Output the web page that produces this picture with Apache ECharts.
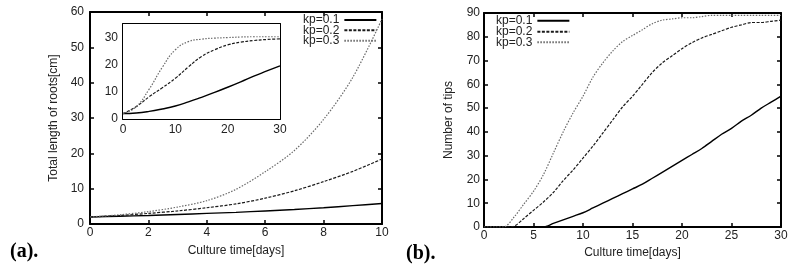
<!DOCTYPE html>
<html>
<head>
<meta charset="utf-8">
<script src="https://cdn.jsdelivr.net/npm/echarts@6/dist/echarts.min.js"></script>
<style>
html,body{margin:0;padding:0;background:#fff;}
#chart{width:797px;height:274px;}
</style>
</head>
<body>
<div id="chart"></div>
<script>
// ---- Data ----
const seriesNames = ['kp=0.1', 'kp=0.2', 'kp=0.3'];

// Panel (a) main: total length of roots [cm] vs culture time [days]
const daysA = [0, 1, 2, 3, 4, 5, 6, 7, 8, 9, 10];
const lenA_kp01 = [2, 2.2, 2.4, 2.7, 3.0, 3.3, 3.7, 4.1, 4.6, 5.2, 5.8];
const lenA_kp02 = [2, 2.4, 3.0, 3.7, 4.6, 5.7, 7.3, 9.4, 12.0, 14.9, 18.4];
const lenA_kp03 = [2, 2.6, 3.5, 4.8, 6.6, 9.8, 14.8, 20.8, 29.6, 41.5, 58];

// Panel (a) inset: 0..30 days
const daysI = [0, 2.5, 5, 7.5, 10, 12.5, 15, 17.5, 20, 22.5, 25, 27.5, 30];
const lenI_kp01 = [2, 2.2, 2.8, 3.7, 4.8, 6.3, 8.0, 9.8, 11.7, 13.7, 15.8, 17.7, 19.6];
const lenI_kp02 = [2, 4.5, 8.2, 11.5, 15, 19.2, 23, 25.5, 27.3, 28.3, 28.9, 29.3, 29.5];
const lenI_kp03 = [2, 4.5, 11, 19, 25.5, 28.5, 29.4, 29.8, 30.0, 30.2, 30.3, 30.3, 30.3];

// Panel (b): number of tips vs culture time [days]
const daysB = [0,1,2,3,4,5,6,7,8,9,10,11,12,13,14,15,16,17,18,19,20,21,22,23,24,25,26,27,28,29,30];
const tipsB_kp01 = [0,0,0,0,0,0,0,1.5,3,4.5,6,8,10,12,14,16,18,20.5,23,25.5,28,30.5,33,36,39,41.5,44.5,47,50,52.5,55];
const tipsB_kp02 = [0,0,0,0.3,3.5,7,10.5,14.5,19.5,24,29,34,39.5,45,50.5,55,60,65,69,72,75,77.5,79.5,81,82.5,84,85,86,86,86.5,87];
const tipsB_kp03 = [0,0,0,4,9.5,15,22,31,40,48,55,63,69,74,78,80.5,83,85.5,87,87.5,88,88,88.5,89,89,89,89,89,89,89,89];

// ---- Styles ----
const FONT = "'Liberation Sans', Arial, sans-serif";
const TXT = '#222';
const lineStyles = [
  { color: '#000', width: 1.4, type: 'solid' },
  { color: '#1a1a1a', width: 1.2, type: [3, 1.5] },
  { color: '#6a6a6a', width: 1.2, type: [1.5, 1.5] }
];

function pairs(xs, ys) { return xs.map((x, i) => [x, ys[i]]); }

function xAx(grid, min, max, interval, pos, showLabel, margin) {
  return {
    type: 'value', gridIndex: grid, min: min, max: max, interval: interval, position: pos,
    axisLine: { show: true, onZero: false, lineStyle: { color: '#000', width: 2 } },
    axisTick: { show: true, inside: true, length: 4, lineStyle: { color: '#000', width: 1.5 } },
    axisLabel: { show: showLabel, color: TXT, fontSize: 12, fontFamily: FONT, margin: margin || 3 },
    splitLine: { show: false }
  };
}
function yAx(grid, min, max, interval, pos, showLabel, margin, hideMax) {
  return {
    type: 'value', gridIndex: grid, min: min, max: max, interval: interval, position: pos,
    axisLine: { show: true, onZero: false, lineStyle: { color: '#000', width: 2 } },
    axisTick: { show: true, inside: true, length: 4, lineStyle: { color: '#000', width: 1.5 } },
    axisLabel: { show: showLabel, color: TXT, fontSize: 12, fontFamily: FONT, margin: margin || 5,
                 showMaxLabel: !hideMax },
    splitLine: { show: false }
  };
}

const xAxes = [
  Object.assign(xAx(0, 0, 10, 2, 'bottom', true, 3), {
    name: 'Culture time[days]', nameLocation: 'middle', nameGap: 21,
    nameTextStyle: { color: TXT, fontSize: 12, fontFamily: FONT, verticalAlign: 'top' }
  }),
  xAx(0, 0, 10, 2, 'top', false),
  xAx(1, 0, 30, 10, 'bottom', true, 5),
  xAx(1, 0, 30, 10, 'top', false),
  Object.assign(xAx(2, 0, 30, 5, 'bottom', true, 3), {
    name: 'Culture time[days]', nameLocation: 'middle', nameGap: 20,
    nameTextStyle: { color: TXT, fontSize: 12, fontFamily: FONT, verticalAlign: 'top' }
  }),
  xAx(2, 0, 30, 5, 'top', false)
];
const yAxes = [
  Object.assign(yAx(0, 0, 60, 10, 'left', true, 6), {
    name: 'Total length of roots[cm]', nameLocation: 'middle', nameGap: 30,
    nameTextStyle: { color: TXT, fontSize: 12, fontFamily: FONT }
  }),
  yAx(0, 0, 60, 10, 'right', false),
  yAx(1, 0, 35, 10, 'left', true, 5, true),
  yAx(1, 0, 35, 10, 'right', false),
  Object.assign(yAx(2, 0, 90, 10, 'left', true, 4), {
    name: 'Number of tips', nameLocation: 'middle', nameGap: 29,
    nameTextStyle: { color: TXT, fontSize: 12, fontFamily: FONT }
  }),
  yAx(2, 0, 90, 10, 'right', false)
];

function mk(name, idx, xi, yi, data, z, sm) {
  return {
    type: 'line', name: name, xAxisIndex: xi, yAxisIndex: yi, data: data,
    showSymbol: false, symbol: 'none', smooth: sm || 0.3, z: z || 2,
    lineStyle: lineStyles[idx], itemStyle: { color: lineStyles[idx].color },
    emphasis: { disabled: true }, animation: false
  };
}

const series = [
  mk(seriesNames[0], 0, 0, 0, pairs(daysA, lenA_kp01)),
  mk(seriesNames[1], 1, 0, 0, pairs(daysA, lenA_kp02)),
  mk(seriesNames[2], 2, 0, 0, pairs(daysA, lenA_kp03)),
  mk(seriesNames[0], 0, 2, 2, pairs(daysI, lenI_kp01), 5, 0.5),
  mk(seriesNames[1], 1, 2, 2, pairs(daysI, lenI_kp02), 5, 0.5),
  mk(seriesNames[2], 2, 2, 2, pairs(daysI, lenI_kp03), 5, 0.5),
  mk(seriesNames[0], 0, 4, 4, pairs(daysB, tipsB_kp01)),
  mk(seriesNames[1], 1, 4, 4, pairs(daysB, tipsB_kp02)),
  mk(seriesNames[2], 2, 4, 4, pairs(daysB, tipsB_kp03))
];

function leg(name, left, top) {
  return {
    data: [name], left: left, top: top, orient: 'vertical', align: 'right',
    padding: 0, itemWidth: 32, itemHeight: 10, itemGap: 0, selectedMode: false,
    itemStyle: { opacity: 0 },
    textStyle: { color: TXT, fontSize: 12, fontFamily: FONT }
  };
}
const legends = [
  leg(seriesNames[0], 303, 14), leg(seriesNames[1], 303, 24.3), leg(seriesNames[2], 303, 34.7),
  leg(seriesNames[0], 496, 14.7), leg(seriesNames[1], 496, 25.7), leg(seriesNames[2], 496, 36.3)
];

const chart = echarts.init(document.getElementById('chart'), null, { renderer: 'canvas' });
chart.setOption({
  backgroundColor: '#fff',
  animation: false,
  grid: [
    { left: 90, top: 12, width: 292, height: 212, containLabel: false },
    { left: 123, top: 24, width: 157, height: 95, show: true, backgroundColor: '#fff', borderWidth: 0, z: 4 },
    { left: 484, top: 13, width: 297, height: 214, containLabel: false }
  ],
  xAxis: xAxes,
  yAxis: yAxes,
  legend: legends,
  series: series,
  graphic: [
    { type: 'text', left: 10, top: 242, z: 10,
      style: { text: '(a).', font: "bold 20px 'Liberation Serif', 'Times New Roman', serif", fill: '#000' } },
    { type: 'text', left: 406, top: 244, z: 10,
      style: { text: '(b).', font: "bold 20px 'Liberation Serif', 'Times New Roman', serif", fill: '#000' } }
  ]
});
</script>
</body>
</html>
